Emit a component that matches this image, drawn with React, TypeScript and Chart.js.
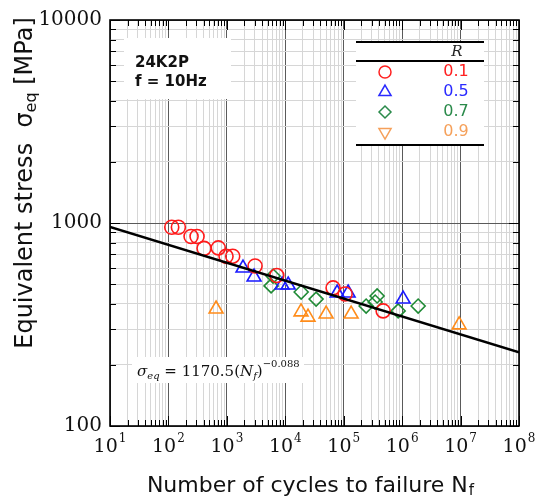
import React, { useEffect, useRef } from 'react';
import { Chart, registerables } from 'chart.js';

Chart.register(...registerables);

// ---- data ----
const r01N = [114, 148, 244, 309, 407, 714, 968, 1260, 3040, 7150, 65800, 105700, 473000];
const r01S = [953, 953, 858, 858, 750, 754, 685, 686, 614, 551, 479, 447, 369];

const r05N = [1890, 2920, 8810, 11200, 77100, 119000, 1040000];
const r05S = [600, 542, 495, 495, 452, 452, 422];

const r07N = [6180, 5720, 18700, 33700, 242000, 373000, 345000, 855000, 1880000];
const r07S = [548, 490, 457, 422, 390, 437, 408, 369, 390];

const r09N = [653, 18600, 24500, 50000, 134000, 9460000];
const r09S = [377, 365, 344, 356, 356, 315];

const fitN = [10, 1e8];
const fitS = [956, 231];

const xTickValues = [10, 100, 1000, 10000, 100000, 1000000, 10000000, 100000000];
const xTickExp = ['1', '2', '3', '4', '5', '6', '7', '8'];
const yTickValues = [100, 1000, 10000];
const yTickLabels = ['100', '1000', '10000'];
const legendTitle = 'R';
const legendLabels = ['0.1', '0.5', '0.7', '0.9'];
const infoLines = ['24K2P', 'f = 10Hz'];

const RED = '#ff1a1a';
const BLUE = '#1a1aff';
const GREEN = '#1f8a35';
const ORANGE = '#ff8c1a';
const LEG_COLORS = ['#ff2020', '#2a2aff', '#2a8a4a', '#f5a05a'];

function logTicks(minExp: number, maxExp: number): number[] {
  const out: number[] = [];
  for (let e = minExp; e < maxExp; e++) {
    for (let m = 1; m < 10; m++) out.push(m * Math.pow(10, e));
  }
  out.push(Math.pow(10, maxExp));
  return out;
}

function isDecade(v: number): boolean {
  const l = Math.log10(v);
  return Math.abs(l - Math.round(l)) < 1e-9;
}

function pts(xs: number[], ys: number[]) {
  return xs.map((x, i) => ({ x, y: ys[i] }));
}

function marker(ctx: CanvasRenderingContext2D, kind: string, x: number, y: number, r: number) {
  ctx.beginPath();
  if (kind === 'circle') {
    ctx.arc(x, y, r, 0, Math.PI * 2);
  } else if (kind === 'up') {
    const s = Math.sin(Math.PI / 3) * r;
    ctx.moveTo(x, y - r);
    ctx.lineTo(x + s, y + r / 2);
    ctx.lineTo(x - s, y + r / 2);
    ctx.closePath();
  } else if (kind === 'down') {
    const s = Math.sin(Math.PI / 3) * r;
    ctx.moveTo(x, y + r);
    ctx.lineTo(x + s, y - r / 2);
    ctx.lineTo(x - s, y - r / 2);
    ctx.closePath();
  } else {
    ctx.moveTo(x - r, y);
    ctx.lineTo(x, y - r);
    ctx.lineTo(x + r, y);
    ctx.lineTo(x, y + r);
    ctx.closePath();
  }
  ctx.stroke();
}

const overlay = {
  id: 'overlay',
  beforeDraw(chart: any) {
    const ctx = chart.ctx;
    ctx.save();
    ctx.fillStyle = '#ffffff';
    ctx.fillRect(0, 0, chart.width, chart.height);
    ctx.restore();
  },
  afterDraw(chart: any) {
    const ctx: CanvasRenderingContext2D = chart.ctx;
    const a = chart.chartArea;
    const xs = chart.scales.x;
    const ys = chart.scales.y;
    ctx.save();

    // inward tick marks
    ctx.strokeStyle = '#000';
    ctx.lineWidth = 1;
    for (const v of logTicks(1, 8)) {
      const px = Math.round(xs.getPixelForValue(v)) + 0.5;
      const len = isDecade(v) ? 10 : 6;
      ctx.beginPath();
      ctx.moveTo(px, a.bottom);
      ctx.lineTo(px, a.bottom - len);
      ctx.moveTo(px, a.top);
      ctx.lineTo(px, a.top + len);
      ctx.stroke();
    }
    for (const v of logTicks(2, 4)) {
      const py = Math.round(ys.getPixelForValue(v)) + 0.5;
      const len = isDecade(v) ? 10 : 6;
      ctx.beginPath();
      ctx.moveTo(a.left, py);
      ctx.lineTo(a.left + len, py);
      ctx.moveTo(a.right, py);
      ctx.lineTo(a.right - len, py);
      ctx.stroke();
    }

    // frame
    ctx.lineWidth = 1.6;
    ctx.strokeRect(a.left, a.top, a.right - a.left, a.bottom - a.top);

    // x tick labels with superscripts
    ctx.fillStyle = '#111';
    ctx.textBaseline = 'alphabetic';
    xTickValues.forEach((v, i) => {
      const px = xs.getPixelForValue(v);
      ctx.font = '19px "DejaVu Serif"';
      const wb = ctx.measureText('10').width;
      ctx.font = '12px "DejaVu Serif"';
      const we = ctx.measureText(xTickExp[i]).width;
      const start = px - (wb + we + 1) / 2;
      ctx.textAlign = 'left';
      ctx.font = '19px "DejaVu Serif"';
      ctx.fillText('10', start, 452);
      ctx.font = '12px "DejaVu Serif"';
      ctx.fillText(xTickExp[i], start + wb + 1, 442);
    });

    // x axis title
    {
      ctx.font = '22px "DejaVu Sans"';
      const main = 'Number of cycles to failure N';
      const wm = ctx.measureText(main).width;
      ctx.font = '15px "DejaVu Sans"';
      const ws = ctx.measureText('f').width;
      const start = 310 - (wm + ws) / 2;
      ctx.font = '22px "DejaVu Sans"';
      ctx.textAlign = 'left';
      ctx.fillText(main, start, 492);
      ctx.font = '15px "DejaVu Sans"';
      ctx.fillText('f', start + wm + 1, 495);
    }

    // y axis title (rotated)
    {
      ctx.save();
      ctx.translate(32, 183);
      ctx.rotate(-Math.PI / 2);
      const p1 = 'Equivalent stress  \u03c3';
      const p2 = 'eq';
      const p3 = ' [MPa]';
      ctx.font = '24px "DejaVu Sans"';
      const w1 = ctx.measureText(p1).width;
      const w3 = ctx.measureText(p3).width;
      ctx.font = '16px "DejaVu Sans"';
      const w2 = ctx.measureText(p2).width;
      let x = -(w1 + w2 + w3) / 2;
      ctx.textAlign = 'left';
      ctx.font = '24px "DejaVu Sans"';
      ctx.fillText(p1, x, 0);
      x += w1;
      ctx.font = '16px "DejaVu Sans"';
      ctx.fillText(p2, x, 4);
      x += w2;
      ctx.font = '24px "DejaVu Sans"';
      ctx.fillText(p3, x, 0);
      ctx.restore();
    }

    // info box
    ctx.fillStyle = '#fff';
    ctx.fillRect(124, 38, 107, 61);
    ctx.fillStyle = '#111';
    ctx.font = 'bold 15px "DejaVu Sans"';
    ctx.textAlign = 'left';
    ctx.fillText(infoLines[0], 135, 67);
    ctx.fillText(infoLines[1], 135, 86);

    // legend table
    const L = { left: 356, right: 484, top: 42, head: 61, bottom: 145 };
    ctx.fillStyle = '#fff';
    ctx.fillRect(L.left, L.top, L.right - L.left, L.bottom - L.top);
    ctx.strokeStyle = '#000';
    ctx.lineWidth = 1.8;
    for (const yy of [L.top, L.head, L.bottom]) {
      ctx.beginPath();
      ctx.moveTo(L.left, yy);
      ctx.lineTo(L.right, yy);
      ctx.stroke();
    }
    ctx.fillStyle = '#222';
    ctx.font = 'italic 15px "DejaVu Serif"';
    ctx.textAlign = 'center';
    ctx.textBaseline = 'middle';
    ctx.fillText(legendTitle, 457, 52);
    const kinds = ['circle', 'up', 'diamond', 'down'];
    const sizes = [6, 7, 6, 7];
    legendLabels.forEach((lab, i) => {
      const yy = 72 + i * 20;
      ctx.strokeStyle = LEG_COLORS[i];
      ctx.lineWidth = 1.5;
      marker(ctx, kinds[i], 385, yy, sizes[i]);
      ctx.fillStyle = LEG_COLORS[i];
      ctx.font = '16px "DejaVu Sans"';
      ctx.fillText(lab, 456, yy);
    });

    // equation box
    ctx.fillStyle = '#fff';
    ctx.fillRect(132, 357, 172, 26);
    ctx.fillStyle = '#111';
    ctx.textAlign = 'left';
    ctx.textBaseline = 'alphabetic';
    let ex = 137;
    const base = 376;
    const seg = (t: string, font: string, dy: number) => {
      ctx.font = font;
      ctx.fillText(t, ex, base + dy);
      ex += ctx.measureText(t).width;
    };
    seg('\u03c3', 'italic 15px "DejaVu Serif"', 0);
    seg('eq', 'italic 10px "DejaVu Serif"', 3);
    seg(' = 1170.5(', '15px "DejaVu Serif"', 0);
    seg('N', 'italic 15px "DejaVu Serif"', 0);
    seg('f', 'italic 10px "DejaVu Serif"', 3);
    seg(')', '15px "DejaVu Serif"', 0);
    seg('\u22120.088', '10px "DejaVu Serif"', -9);

    ctx.restore();
  },
};

export default function App() {
  const ref = useRef<HTMLCanvasElement | null>(null);

  useEffect(() => {
    if (!ref.current) return;
    const gridColor = (c: any) => {
      const v = c.tick ? c.tick.value : 0;
      return v && isDecade(v) ? '#5a5a5a' : '#d6d6d6';
    };
    const chart = new Chart(ref.current, {
      type: 'scatter',
      data: {
        datasets: [
          {
            label: 'fit',
            data: pts(fitN, fitS),
            showLine: true,
            borderColor: '#000',
            borderWidth: 2.5,
            pointRadius: 0,
            order: 0,
          },
          {
            label: '0.1',
            data: pts(r01N, r01S),
            pointStyle: 'circle',
            pointRadius: 7,
            borderColor: RED,
            backgroundColor: 'rgba(0,0,0,0)',
            pointBorderWidth: 1.6,
            order: 1,
          },
          {
            label: '0.5',
            data: pts(r05N, r05S),
            pointStyle: 'triangle',
            pointRadius: 8,
            borderColor: BLUE,
            backgroundColor: 'rgba(0,0,0,0)',
            pointBorderWidth: 1.6,
            order: 2,
          },
          {
            label: '0.7',
            data: pts(r07N, r07S),
            pointStyle: 'rectRot',
            pointRadius: 7,
            borderColor: GREEN,
            backgroundColor: 'rgba(0,0,0,0)',
            pointBorderWidth: 1.6,
            order: 3,
          },
          {
            label: '0.9',
            data: pts(r09N, r09S),
            pointStyle: 'triangle',
            pointRadius: 8,
            borderColor: ORANGE,
            backgroundColor: 'rgba(0,0,0,0)',
            pointBorderWidth: 1.6,
            order: 4,
          },
        ],
      },
      options: {
        responsive: false,
        animation: false,
        events: [],
        layout: { padding: { left: 0, top: 20, right: 20, bottom: 0 } },
        plugins: {
          legend: { display: false },
          tooltip: { enabled: false },
          title: { display: false },
        },
        scales: {
          x: {
            type: 'logarithmic',
            min: 10,
            max: 1e8,
            border: { display: false },
            grid: { color: gridColor, lineWidth: 1, drawTicks: false },
            ticks: { display: false, autoSkip: false },
            afterBuildTicks: (s: any) => {
              s.ticks = logTicks(1, 8).map((v) => ({ value: v }));
            },
            afterFit: (s: any) => {
              s.height = 72;
            },
          },
          y: {
            type: 'logarithmic',
            min: 100,
            max: 10000,
            border: { display: false },
            grid: { color: gridColor, lineWidth: 1, drawTicks: false },
            ticks: {
              autoSkip: false,
              padding: 8,
              color: '#111',
              font: { family: '"DejaVu Serif"', size: 20 },
              callback: (v: any) => {
                const i = yTickValues.indexOf(Number(v));
                return i >= 0 ? yTickLabels[i] : '';
              },
            },
            afterBuildTicks: (s: any) => {
              s.ticks = logTicks(2, 4).map((v) => ({ value: v }));
            },
            afterFit: (s: any) => {
              s.width = 110;
            },
          },
        },
      } as any,
      plugins: [overlay],
    });
    return () => chart.destroy();
  }, []);

  return (
    <div style={{ position: 'absolute', left: 0, top: 0, width: 539, height: 498 }}>
      <canvas ref={ref} width={539} height={498} style={{ width: 539, height: 498, display: 'block' }} />
    </div>
  );
}
